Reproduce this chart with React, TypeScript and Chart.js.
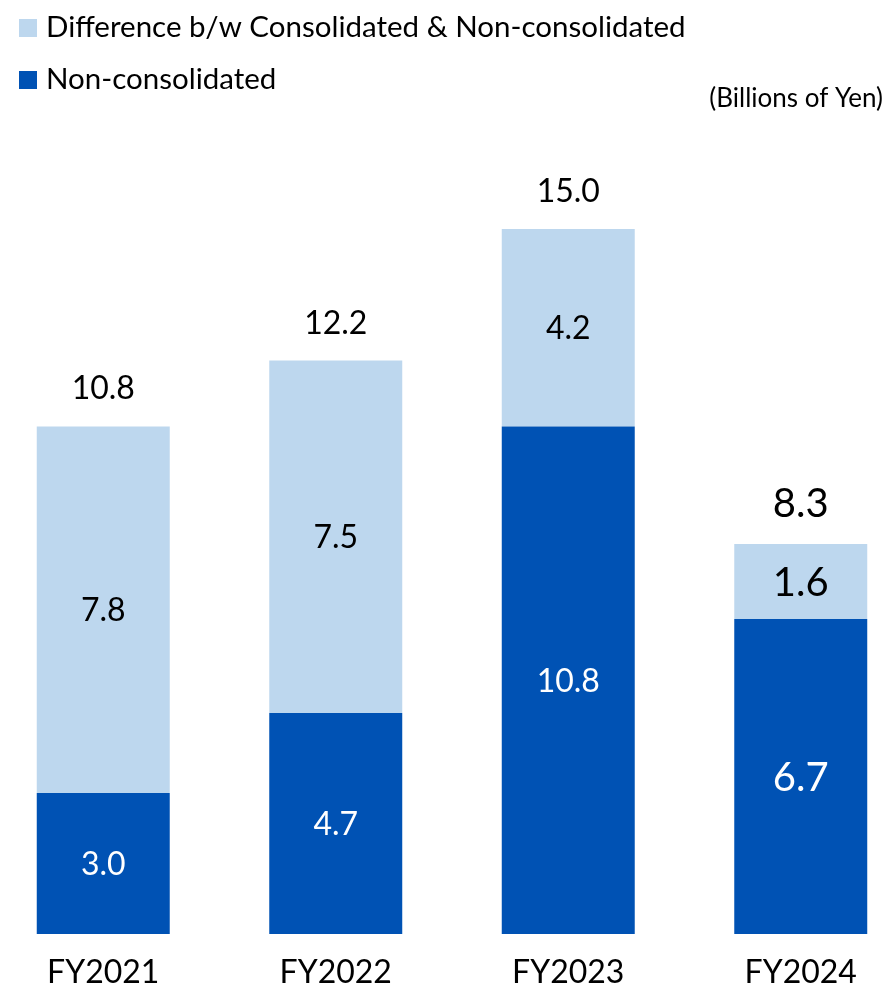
import React, { useEffect, useRef } from "react";
import { Chart, registerables } from "chart.js";

Chart.register(...registerables);

// ---- Data ----
const categories = ["FY2021", "FY2022", "FY2023", "FY2024"];
const nonConsolidated = [3.0, 4.7, 10.8, 6.7];
const difference = [7.8, 7.5, 4.2, 1.6];
const totals = [10.8, 12.2, 15.0, 8.3];
const seriesNames = ["Non-consolidated", "Difference b/w Consolidated & Non-consolidated"];
const unitLabel = "(Billions of Yen)";

// ---- Style ----
const DARK = "#0052B4";
const LIGHT = "#BDD7EE";
const FONT = 'Lato, "Liberation Sans", sans-serif';
const labelSizes = [32, 32, 32, 40];
const CANVAS_LEFT = -13;
const CANVAS_W = 930;
const CANVAS_H = 988;

const valueLabels = {
  id: "valueLabels",
  afterDatasetsDraw(chart: any) {
    const ctx = chart.ctx;
    ctx.save();
    const n = chart.data.datasets.length;
    chart.data.datasets.forEach((ds: any, di: number) => {
      const meta = chart.getDatasetMeta(di);
      meta.data.forEach((bar: any, i: number) => {
        const { x, y, base } = bar.getProps(["x", "y", "base"], true);
        const size = labelSizes[i];
        ctx.font = `${size}px ${FONT}`;
        ctx.textAlign = "center";
        ctx.textBaseline = "alphabetic";
        ctx.fillStyle = di === 0 ? "#FFFFFF" : "#000000";
        const mid = (y + base) / 2;
        ctx.fillText(Number(ds.data[i]).toFixed(1), x, mid + size * 0.36);
        if (di === n - 1) {
          ctx.fillStyle = "#000000";
          ctx.fillText(totals[i].toFixed(1), x, y - 27);
        }
      });
    });
    ctx.restore();
  },
};

const sideLegend = {
  id: "sideLegend",
  afterDraw(chart: any) {
    const ctx = chart.ctx;
    ctx.save();
    const ox = -CANVAS_LEFT;
    const items = [...chart.data.datasets].reverse();
    items.forEach((ds: any, k: number) => {
      const top = 19 + k * 52;
      ctx.fillStyle = ds.backgroundColor;
      ctx.fillRect(ox + 19, top, 18, 18);
      ctx.fillStyle = "#000000";
      ctx.font = `29.5px ${FONT}`;
      ctx.textAlign = "left";
      ctx.textBaseline = "alphabetic";
      ctx.fillText(ds.label, ox + 46, top + 18);
    });
    ctx.fillStyle = "#000000";
    ctx.font = `26px ${FONT}`;
    ctx.textAlign = "right";
    ctx.textBaseline = "alphabetic";
    ctx.fillText(unitLabel, ox + 883, 107);
    ctx.restore();
  },
};

export default function App() {
  const ref = useRef<HTMLCanvasElement>(null);
  useEffect(() => {
    document.body.style.margin = "0";
    const chart = new Chart(ref.current as HTMLCanvasElement, {
      type: "bar",
      data: {
        labels: categories,
        datasets: [
          {
            label: seriesNames[0],
            data: nonConsolidated,
            backgroundColor: DARK,
            borderWidth: 0,
            barPercentage: 0.572,
            categoryPercentage: 1,
          },
          {
            label: seriesNames[1],
            data: difference,
            backgroundColor: LIGHT,
            borderWidth: 0,
            barPercentage: 0.572,
            categoryPercentage: 1,
          },
        ],
      },
      options: {
        animation: false,
        responsive: false,
        devicePixelRatio: 1,
        layout: { padding: { top: 41, left: 0, right: 0, bottom: 0 } },
        plugins: {
          legend: { display: false },
          tooltip: { enabled: false },
        },
        scales: {
          x: {
            stacked: true,
            grid: { display: false, drawTicks: false },
            border: { display: false },
            ticks: {
              color: "#000000",
              font: { family: FONT, size: 32 },
              padding: 19,
            },
            afterFit: (scale: any) => {
              scale.height = 54;
            },
          },
          y: {
            stacked: true,
            display: false,
            min: 0,
            max: 19,
          },
        },
      },
      plugins: [valueLabels, sideLegend],
    });
    return () => chart.destroy();
  }, []);
  return (
    <div
      style={{
        position: "absolute",
        left: 0,
        top: 0,
        width: 886,
        height: 988,
        overflow: "hidden",
        background: "#ffffff",
      }}
    >
      <canvas
        ref={ref}
        width={CANVAS_W}
        height={CANVAS_H}
        style={{ position: "absolute", left: CANVAS_LEFT, top: 0, width: CANVAS_W, height: CANVAS_H }}
      />
    </div>
  );
}
